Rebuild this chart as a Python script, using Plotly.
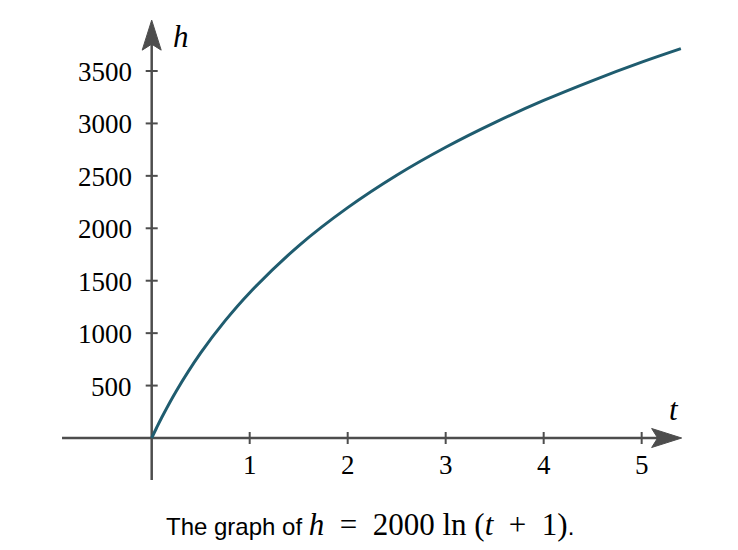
import plotly.graph_objects as go

# Data (h = 2000 ln(t+1))
t_vals = [0, 0.05, 0.1, 0.25, 0.5, 0.75, 1, 1.5, 2, 2.5, 3, 3.5, 4, 4.5, 5, 5.4]
h_vals = [0, 98, 191, 446, 811, 1119, 1386, 1833, 2197, 2506, 2773, 3008, 3219, 3409, 3584, 3713]

x_ticks = [1, 2, 3, 4, 5]
y_ticks = [500, 1000, 1500, 2000, 2500, 3000, 3500]

W, H = 738, 550
# axis ranges (data units)
X0, X1 = -1.548, 5.983
Y0, Y1 = -1068, 4177
px_x = (X1 - X0) / W   # data units per pixel (x)
px_y = (Y1 - Y0) / H   # data units per pixel (y)

axis_color = "#4d4d4d"
curve_color = "#1f5c6f"
serif = "Liberation Serif"

# axis extents
x_axis_min, x_axis_tip = -0.915, 5.408
y_axis_min, y_axis_tip = -400, 3985
arrow_len, arrow_half = 30, 9.5

fig = go.Figure()
fig.add_trace(go.Scatter(x=t_vals, y=h_vals, mode="lines",
                         line=dict(color=curve_color, width=3, shape="spline"),
                         hoverinfo="skip", showlegend=False))

shapes = []
# x axis line
shapes.append(dict(type="line", x0=x_axis_min, x1=x_axis_tip - arrow_len * px_x * 0.5, y0=0, y1=0,
                   line=dict(color=axis_color, width=2.5), layer="below"))
# y axis line
shapes.append(dict(type="line", x0=0, x1=0, y0=y_axis_min, y1=y_axis_tip - arrow_len * px_y * 0.5,
                   line=dict(color=axis_color, width=2.5), layer="below"))
# arrowheads
bx = x_axis_tip - arrow_len * px_x
shapes.append(dict(type="path",
                   path=f"M {x_axis_tip} 0 L {bx} {arrow_half*px_y} L {bx + 6*px_x} 0 L {bx} {-arrow_half*px_y} Z",
                   fillcolor=axis_color, line=dict(color=axis_color, width=1)))
by = y_axis_tip - arrow_len * px_y
shapes.append(dict(type="path",
                   path=f"M 0 {y_axis_tip} L {arrow_half*px_x} {by} L 0 {by + 6*px_y} L {-arrow_half*px_x} {by} Z",
                   fillcolor=axis_color, line=dict(color=axis_color, width=1)))
# ticks
for xt in x_ticks:
    shapes.append(dict(type="line", x0=xt, x1=xt, y0=-6 * px_y, y1=6 * px_y,
                       line=dict(color=axis_color, width=2)))
for yt in y_ticks:
    shapes.append(dict(type="line", x0=-6 * px_x, x1=6 * px_x, y0=yt, y1=yt,
                       line=dict(color=axis_color, width=2)))

annotations = []
for xt in x_ticks:
    annotations.append(dict(x=xt, y=0, text=str(xt), showarrow=False, xanchor="center",
                            yanchor="middle", yshift=-27,
                            font=dict(family=serif, size=27, color="black")))
for yt in y_ticks:
    annotations.append(dict(x=0, y=yt, text=str(yt), showarrow=False, xanchor="right",
                            yanchor="middle", xshift=-18, yshift=-1,
                            font=dict(family=serif, size=27, color="black")))
# axis labels
annotations.append(dict(x=0, y=y_axis_tip, text="<i>h</i>", showarrow=False, xanchor="center",
                        yanchor="middle", xshift=29, yshift=-16,
                        font=dict(family=serif, size=31, color="black")))
annotations.append(dict(x=x_axis_tip, y=0, text="<i>t</i>", showarrow=False, xanchor="center",
                        yanchor="middle", xshift=-8, yshift=29,
                        font=dict(family=serif, size=31, color="black")))
# caption
nb = "\u00a0"
caption = ("The graph of <span style='font-family:Liberation Serif;font-size:31px'>"
           f"<i>h</i>{nb} = {nb}2000 ln (<i>t</i>{nb} + {nb}1)</span>.")
annotations.append(dict(x=370 / W, y=1 - 524 / H, xref="paper", yref="paper", text=caption,
                        showarrow=False, xanchor="center", yanchor="middle",
                        font=dict(family="Liberation Sans", size=24, color="black")))

fig.update_layout(
    width=W, height=H, margin=dict(l=0, r=0, t=0, b=0),
    paper_bgcolor="white", plot_bgcolor="white",
    xaxis=dict(range=[X0, X1], visible=False, fixedrange=True),
    yaxis=dict(range=[Y0, Y1], visible=False, fixedrange=True),
    shapes=shapes, annotations=annotations,
)

fig.write_html("out.html")
